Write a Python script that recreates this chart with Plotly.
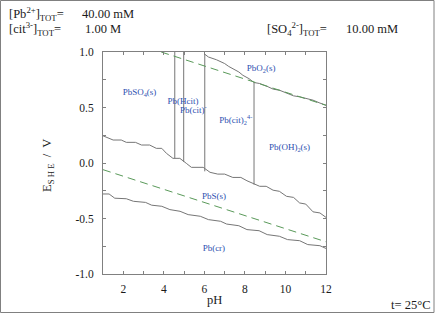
import plotly.graph_objects as go

# ---- data ----
lineA_pH = [1.0, 1.5, 1.9, 2.15, 2.6, 2.9, 3.3, 3.63, 3.9, 4.13, 4.45, 4.79, 5.11, 5.36, 5.94,
            6.28, 6.66, 7.0, 7.4, 7.8, 8.1, 8.45, 8.73, 9.05, 9.39, 9.7, 10.05, 10.4, 10.7,
            11.0, 11.36, 11.7, 12.0]
lineA_E = [0.245, 0.207, 0.207, 0.186, 0.186, 0.162, 0.162, 0.132, 0.132, 0.087, 0.042, 0.042,
           -0.003, -0.039, -0.039, -0.084, -0.100, -0.100, -0.13, -0.13, -0.16, -0.19, -0.21,
           -0.21, -0.245, -0.255, -0.30, -0.31, -0.36, -0.37, -0.44, -0.45, -0.49]

lineB_pH = [1.0, 1.3, 1.58, 2.15, 2.5, 3.1, 3.4, 3.9, 4.3, 4.8, 5.2, 5.8, 6.2, 6.8, 7.1, 7.7,
            8.1, 8.7, 9.1, 9.7, 10.1, 10.7, 11.1, 11.7, 12.0]
lineB_E = [-0.279, -0.279, -0.317, -0.322, -0.345, -0.355, -0.38, -0.39, -0.42, -0.435, -0.465,
           -0.48, -0.51, -0.525, -0.55, -0.565, -0.60, -0.61, -0.645, -0.66, -0.69, -0.70,
           -0.735, -0.745, -0.77]

lineC_pH = [6.02, 6.2, 6.6, 7.0, 7.2, 7.4, 7.7, 7.9, 8.2, 8.45, 8.73, 9.1, 9.4, 9.7, 10.1,
            10.4, 10.7, 11.0, 11.36, 11.7, 12.0]
lineC_E = [0.98, 0.955, 0.93, 0.896, 0.87, 0.85, 0.82, 0.79, 0.76, 0.725, 0.716, 0.69, 0.665,
           0.656, 0.63, 0.605, 0.596, 0.58, 0.566, 0.54, 0.52]

vert_pH = [4.54, 4.98, 6.02, 8.45]
vert_top = [1.0, 1.0, 0.98, 0.725]
vert_bot = [0.042, 0.01, -0.075, -0.195]

o2_pH = [3.87, 12.0]
o2_E = [1.0, 0.52]
h2_pH = [1.0, 12.0]
h2_E = [-0.06, -0.71]

species = ["PbSO<sub>4</sub>(s)", "Pb(Hcit)", "Pb(cit)<sup>-</sup>", "Pb(cit)<sub>2</sub><sup>4-</sup>",
           "PbO<sub>2</sub>(s)", "Pb(OH)<sub>2</sub>(s)", "PbS(s)", "Pb(cr)"]
species_pH = [2.8, 4.95, 5.45, 7.55, 8.8, 10.2, 6.47, 6.47]
species_E = [0.63, 0.555, 0.47, 0.38, 0.85, 0.135, -0.30, -0.77]

x_ticks = list(range(1, 13))
x_labels = [str(v) if v % 2 == 0 else "" for v in x_ticks]
y_ticks = [-1.0, -0.75, -0.5, -0.25, 0.0, 0.25, 0.5, 0.75, 1.0]
y_labels = ["-1.0", "", "-0.5", "", "0.0", "", "0.5", "", "1.0"]

# ---- figure ----
W, H = 436, 314
ML, MR, MT, MB = 103, 110, 52, 40
PW, PH = W - ML - MR, H - MT - MB

def px(x):
    return (x - ML) / PW

def py(y):
    return (H - MB - y) / PH

LINE = "#767676"
GREEN = "#5a9a5a"
BLUE = "#2d4fb0"
SERIF = "Liberation Serif, Times New Roman, serif"

fig = go.Figure()
for xs, ys in [(lineA_pH, lineA_E), (lineB_pH, lineB_E), (lineC_pH, lineC_E)]:
    fig.add_trace(go.Scatter(x=xs, y=ys, mode="lines", line=dict(color=LINE, width=1),
                             hoverinfo="skip", showlegend=False))
for p, t, b in zip(vert_pH, vert_top, vert_bot):
    fig.add_trace(go.Scatter(x=[p, p], y=[t, b], mode="lines", line=dict(color=LINE, width=1),
                             hoverinfo="skip", showlegend=False))
for xs, ys in [(o2_pH, o2_E), (h2_pH, h2_E)]:
    fig.add_trace(go.Scatter(x=xs, y=ys, mode="lines",
                             line=dict(color=GREEN, width=1, dash="8px,5px"),
                             hoverinfo="skip", showlegend=False))
fig.add_trace(go.Scatter(x=species_pH, y=species_E, mode="text", text=species,
                         textfont=dict(family=SERIF, size=9, color=BLUE),
                         hoverinfo="skip", showlegend=False))

axis_common = dict(showgrid=False, zeroline=False, showline=True, linecolor="#808080",
                   linewidth=1, mirror="allticks", ticks="inside", ticklen=3,
                   tickcolor="#808080", tickfont=dict(family=SERIF, size=11.5, color="#1a1a1a"))
fig.update_xaxes(range=[1, 12], tickmode="array", tickvals=x_ticks, ticktext=x_labels,
                 ticklabelstandoff=4, **axis_common)
fig.update_yaxes(range=[-1, 1], tickmode="array", tickvals=y_ticks, ticktext=y_labels,
                 ticklabelstandoff=6, **axis_common)

ann_font = dict(family=SERIF, size=12.5, color="#1a1a1a")
anns = [
    ("[Pb<sup>2+</sup>]<sub>TOT</sub>=", 7, 14, "left"),
    ("40.00 mM", 80, 14, "left"),
    ("[cit<sup>3-</sup>]<sub>TOT</sub>=", 7, 29, "left"),
    ("1.00 M", 83, 29, "left"),
    ("[SO<sub>4</sub><sup>2-</sup>]<sub>TOT</sub>=", 265, 29, "left"),
    ("10.00 mM", 344, 29, "left"),
    ("t= 25°C", 432, 305, "right"),
    ("pH", 214, 300, "center"),
]
for txt, x, y, anc in anns:
    fig.add_annotation(text=txt, x=px(x), y=py(y), xref="paper", yref="paper",
                       xanchor=anc, yanchor="middle", showarrow=False, font=ann_font)
fig.add_annotation(text="E<sub>S H E</sub>  /  V", x=px(48), y=py(166), xref="paper", yref="paper",
                   xanchor="center", yanchor="middle", showarrow=False, textangle=-90,
                   font=ann_font)

# outer frame
fig.add_shape(type="rect", xref="paper", yref="paper", x0=px(0.5), x1=px(434), y0=py(312.5),
              y1=py(0.5), line=dict(color="#808080", width=1))

fig.update_layout(width=W, height=H, margin=dict(l=ML, r=MR, t=MT, b=MB),
                  paper_bgcolor="white", plot_bgcolor="white")
fig.write_html("out.html", config={"displayModeBar": False},
               post_script="document.body.style.margin='0';document.body.style.padding='0';"
                           "document.documentElement.style.overflow='hidden';")
